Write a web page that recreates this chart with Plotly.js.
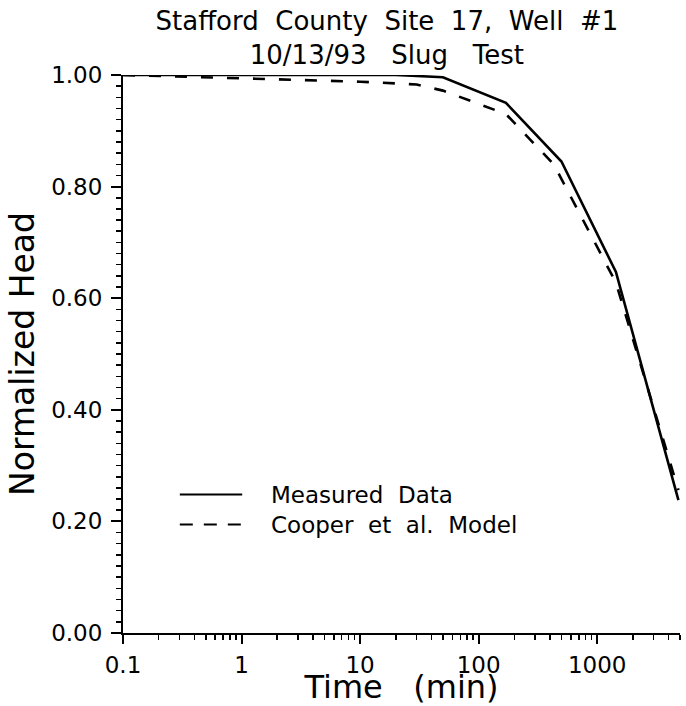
<!DOCTYPE html>
<html>
<head>
<meta charset="utf-8">
<script src="https://cdn.plot.ly/plotly-3.0.1.min.js"></script>
<style>html,body{margin:0;padding:0;background:#fff;}#chart{width:686px;height:706px;}</style>
</head>
<body>
<div id="chart"></div>
<script>
// Data
const measuredTime = [0.1, 0.2, 0.5, 1, 2, 5, 10, 20, 50, 170, 500, 1440, 4850];
const measuredHead = [1.0, 1.0, 1.0, 1.0, 1.0, 1.0, 1.0, 1.0, 0.996, 0.950, 0.845, 0.647, 0.238];
const modelTime = [0.1, 0.5, 1, 10, 30, 50, 170, 430, 1440, 4850];
const modelHead = [1.0, 0.996, 0.994, 0.988, 0.983, 0.972, 0.930, 0.840, 0.628, 0.256];
const xTickVals = [0.1, 1, 10, 100, 1000];
const xTickText = ['0.1', '1', '10', '100', '1000'];
const seriesNames = ['Measured Data', 'Cooper et al. Model'];
const sp = '\u00a0\u00a0';
const legendText = 'Measured' + sp + 'Data<br>Cooper' + sp + 'et' + sp + 'al.' + sp + 'Model';
const titleText = 'Stafford' + sp + 'County' + sp + 'Site' + sp + '17,' + sp + 'Well' + sp + '#1<br>10/13/93' + sp + '\u00a0Slug' + sp + '\u00a0Test';

const xMinor = [];
[0.1, 1, 10, 100, 1000].forEach(d => { for (let k = 2; k <= 9; k++) { const v = d * k; if (v <= 5000) xMinor.push(v); } });

const lineStyles = [
  {color: 'black', width: 2.6},
  {color: 'black', width: 2.6, dash: '12px,14px'}
];

const traces = [
  {x: measuredTime, y: measuredHead, name: seriesNames[0], type: 'scatter', mode: 'lines', line: lineStyles[0], showlegend: false},
  {x: modelTime, y: modelHead, name: seriesNames[1], type: 'scatter', mode: 'lines', line: lineStyles[1], showlegend: false}
];

// legend drawn as shapes + one two-line annotation (paper coordinates of the plot area)
const legX0 = 0.102, legX1 = 0.214, legTextX = 0.262, legMid = 0.2213;
const legRows = [0.2482, 0.1944];
const shapes = [
  {type: 'line', xref: 'paper', yref: 'paper', x0: legX0, x1: legX1, y0: legRows[0], y1: legRows[0], line: {color: 'black', width: 2.2}},
  {type: 'line', xref: 'paper', yref: 'paper', x0: legX0, x1: legX1, y0: legRows[1], y1: legRows[1], line: {color: 'black', width: 2.2, dash: '13px,11px'}}
];
const annotations = [{
  text: legendText, xref: 'paper', yref: 'paper', x: legTextX, y: legMid, xanchor: 'left', yanchor: 'middle',
  align: 'left', showarrow: false, font: {family: 'DejaVu Sans, sans-serif', size: 23, color: 'black'}
}];

const tickFont = {family: 'DejaVu Sans, sans-serif', size: 23, color: 'black'};
const layout = {
  width: 686, height: 706,
  margin: {l: 123, r: 6, t: 75, b: 73},
  paper_bgcolor: 'white', plot_bgcolor: 'white',
  showlegend: false,
  shapes: shapes,
  annotations: annotations,
  title: {
    text: titleText,
    font: {family: 'DejaVu Sans, sans-serif', size: 26, color: 'black'},
    x: 0.564, xanchor: 'center', xref: 'container', y: 0.957, yanchor: 'top', yref: 'container'
  },
  xaxis: {
    type: 'log', range: [-1, Math.log10(5000)],
    tickmode: 'array', tickvals: xTickVals, ticktext: xTickText,
    ticks: 'outside', ticklen: 9, tickwidth: 2, tickcolor: 'black',
    showline: true, linewidth: 2, linecolor: 'black', mirror: false,
    showgrid: false, zeroline: false,
    tickfont: tickFont, ticklabelstandoff: 1,
    minor: {tickmode: 'array', tickvals: xMinor, ticks: 'outside', ticklen: 5, tickwidth: 1.5, tickcolor: 'black', showgrid: false},
    title: {text: 'Time\u00a0\u00a0\u00a0(min)', font: {family: 'DejaVu Sans, sans-serif', size: 32, color: 'black'}, standoff: 2}
  },
  yaxis: {
    range: [0, 1], dtick: 0.2, tick0: 0, tickformat: '.2f',
    ticks: 'outside', ticklen: 10, tickwidth: 2, tickcolor: 'black',
    showline: true, linewidth: 2, linecolor: 'black', mirror: false,
    showgrid: false, zeroline: false,
    tickfont: tickFont, ticklabelstandoff: 4,
    minor: {dtick: 0.02, ticks: 'outside', ticklen: 5, tickwidth: 1.5, tickcolor: 'black', showgrid: false},
    title: {text: 'Normalized Head', font: {family: 'DejaVu Sans, sans-serif', size: 33, color: 'black'}, standoff: 7}
  }
};

Plotly.newPlot('chart', traces, layout, {staticPlot: true, displayModeBar: false});
</script>
</body>
</html>
